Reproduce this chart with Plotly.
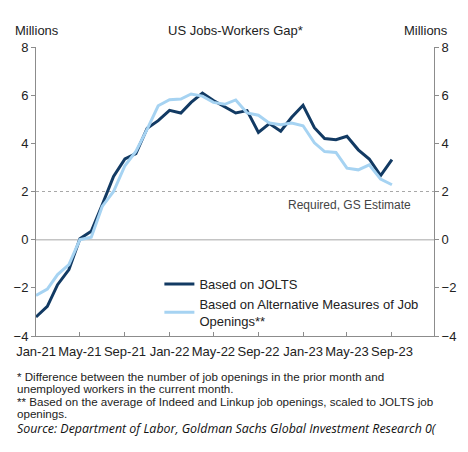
"""US Jobs-Workers Gap chart rebuilt with plotly."""

import pandas as pd
from plotly import graph_objects as go

months = pd.date_range("2021-01-01", periods=33, freq="MS")

jolts = [
    -3.21, -2.77, -1.87, -1.24, 0.04, 0.35, 1.45, 2.63, 3.35, 3.57, 4.63, 4.94,
    5.37, 5.26, 5.70, 6.09, 5.78, 5.50, 5.26, 5.36, 4.45, 4.82, 4.50, 5.08,
    5.58, 4.65, 4.20, 4.15, 4.29, 3.73, 3.35, 2.66, 3.32,
]
alternative = [
    -2.32, -2.05, -1.45, -1.04, 0.00, 0.10, 1.38, 2.00, 3.07, 3.66, 4.59, 5.56,
    5.81, 5.84, 6.05, 5.96, 5.70, 5.62, 5.80, 5.26, 5.17, 4.84, 4.77, 4.84,
    4.73, 4.02, 3.66, 3.62, 2.97, 2.90, 3.11, 2.52, 2.28,
]
required_level = 2

footnotes = [
    "* Difference between the number of job openings in the prior month and",
    "unemployed workers in the current month.",
    "** Based on the average of Indeed and Linkup job openings, scaled to JOLTS job",
    "openings.",
]
source = "Source: Department of Labor, Goldman Sachs Global Investment Research 0("

FONT = "Liberation Sans, Arial, sans-serif"
AXIS_GREY = "#8c8c8c"

fig = go.Figure()
fig.add_trace(go.Scatter(
    x=months, y=jolts, mode="lines", name="Based on JOLTS",
    line=dict(color="#123a63", width=3),
))
fig.add_trace(go.Scatter(
    x=months, y=alternative, mode="lines",
    name="Based on Alternative Measures of Job<br>Openings**",
    line=dict(color="#a6d3f2", width=3),
))

# zero line and required level
fig.add_hline(y=0, line=dict(color="#c4c4c4", width=1.5), layer="below")
fig.add_hline(y=required_level, line=dict(color="#a8a8a8", width=1, dash="dot"),
              layer="below")

axis_common = dict(
    range=[-4, 8], dtick=2, showgrid=False, zeroline=False,
    showline=True, linecolor=AXIS_GREY, linewidth=1,
    ticks="outside", ticklen=4, tickcolor=AXIS_GREY,
    tickfont=dict(size=13, color="#222"),
)

fig.update_layout(
    width=468, height=452,
    margin=dict(l=36, r=31, t=47, b=116),
    paper_bgcolor="white", plot_bgcolor="white",
    font=dict(family=FONT, size=13, color="#222"),
    showlegend=True,
    legend=dict(
        x=0.31, y=0.232, xanchor="left", yanchor="top",
        bgcolor="rgba(0,0,0,0)", font=dict(size=13, color="#222"),
        tracegroupgap=0, valign="middle",
    ),
    xaxis=dict(
        range=["2021-01-01", "2023-12-25"],
        tickvals=list(months[::4]), tickformat="%b-%y",
        showgrid=False, zeroline=False,
        showline=True, linecolor=AXIS_GREY, linewidth=1,
        ticks="inside", ticklen=4, tickcolor=AXIS_GREY,
        tickfont=dict(size=13, color="#222"), ticklabelstandoff=3,
    ),
    yaxis=dict(side="left", **axis_common),
    yaxis2=dict(side="right", overlaying="y", **axis_common),
)

# invisible trace so the right axis renders
fig.add_trace(go.Scatter(x=months[:1], y=[0], yaxis="y2", showlegend=False,
                         mode="lines", line=dict(width=0), hoverinfo="skip"))


def px_to_paper(py):
    return (336 - py) / 289


fig.add_annotation(text="US Jobs-Workers Gap*", xref="paper", yref="paper",
                   x=0.5, y=px_to_paper(30.5), showarrow=False,
                   xanchor="center", yanchor="middle", font=dict(size=13))
fig.add_annotation(text="Millions", xref="paper", yref="paper",
                   x=(37.5 - 36) / 401, y=px_to_paper(30.5), showarrow=False,
                   xanchor="center", yanchor="middle", font=dict(size=13))
fig.add_annotation(text="Millions", xref="paper", yref="paper",
                   x=(429 - 36) / 401, y=px_to_paper(30.5), showarrow=False,
                   xanchor="center", yanchor="middle", font=dict(size=13))
fig.add_annotation(text="Required, GS Estimate", xref="paper", yref="y",
                   x=(416 - 36) / 401, y=1.45, showarrow=False,
                   xanchor="right", yanchor="middle",
                   font=dict(size=12, color="#444"))

# footnotes as one block; small base font keeps the lines tight
note_lines = [f"<span style='font-size:11.6px'>{t}</span>" for t in footnotes]
fig.add_annotation(text="<br>".join(note_lines), xref="paper", yref="paper",
                   x=(15 - 36) / 401, y=px_to_paper(395), showarrow=False,
                   xanchor="left", yanchor="middle", align="left",
                   font=dict(size=9.5, color="#222"))
fig.add_annotation(text=f"<i>{source}</i>", xref="paper", yref="paper",
                   x=(15 - 36) / 401, y=px_to_paper(428.5), showarrow=False,
                   xanchor="left", yanchor="middle", align="left",
                   font=dict(family="Open Sans, sans-serif", size=12.4,
                             color="#111"))

# drop the default page margin so the figure sits at the window corner
fig.write_html("out.html", config={"displayModeBar": False},
               post_script="document.body.style.margin = '0';")
